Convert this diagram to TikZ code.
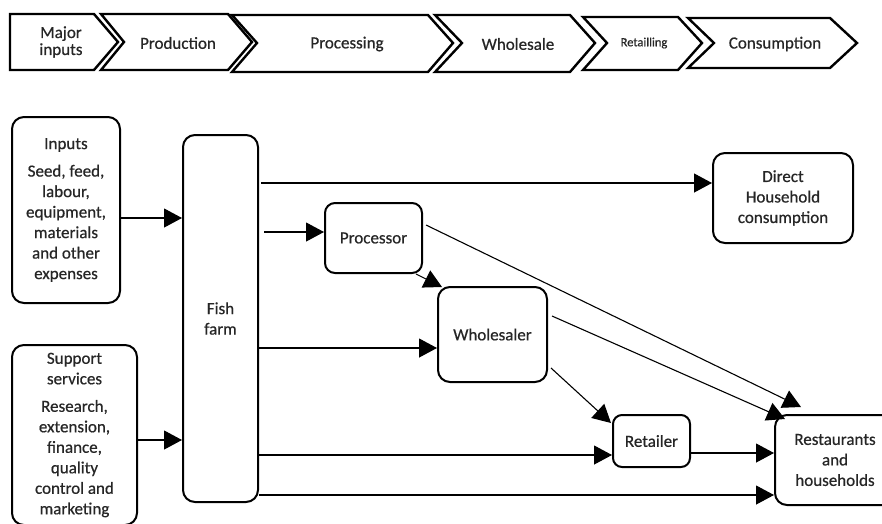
\documentclass[tikz,border=0pt]{standalone}
\usepackage{fontspec}
\setmainfont[FakeBold=0.6]{Carlito}
\usetikzlibrary{arrows.meta}

\tikzset{
  box/.style={draw, rounded corners=12pt, line width=2pt, align=center, inner sep=2pt},
  flow/.style={-{Triangle[length=18pt,width=19pt]}, line width=1.1pt},
  stage/.style={draw, line width=2.4pt, miter limit=10},
}

\begin{document}
\begin{tikzpicture}[x=1pt, y=-1pt,
    every node/.style={font=\fontsize{17}{20.5}\selectfont, text=black!85}]
  \useasboundingbox (0,0) rectangle (882,523);

  % value chain stages
  \draw[stage] (10,14) -- (94,14) -- (118,42) -- (94,70) -- (10,70) -- cycle;
  \draw[stage] (101,14) -- (228,14) -- (252,42) -- (228,70) -- (101,70) -- (124,42) -- cycle;
  \draw[stage] (232,15) -- (428,15) -- (453,43) -- (428,72) -- (232,72) -- (257,43) -- cycle;
  \draw[stage] (435,15) -- (570,15) -- (595,43) -- (570,72) -- (435,72) -- (462,43) -- cycle;
  \draw[stage] (583,17) -- (678,17) -- (702,43) -- (678,70) -- (583,70) -- (607,43) -- cycle;
  \draw[stage] (688,18) -- (830,18) -- (857,43) -- (830,68) -- (688,68) -- (714,43) -- cycle;

  \node[align=center, font=\fontsize{17}{17}\selectfont] (major) at (61,42) {Major\\inputs};
  \node (prod) at (178,43) {Production};
  \node (procg) at (347,44) {Processing};
  \node (whsale) at (518,44) {Wholesale};
  \node[font=\fontsize{12.5}{14}\selectfont] (retg) at (644,43) {Retailling};
  \node (cons) at (775,44) {Consumption};

  % actors
  \node[box, minimum width=108pt, minimum height=186pt] (inputs) at (66,210)
    {Inputs\\[7pt]Seed, feed,\\labour,\\equipment,\\materials\\and other\\expenses};
  \node[box, minimum width=75pt, minimum height=367pt] (farm) at (220.5,318.5) {Fish\\farm};
  \node[box, minimum width=125pt, minimum height=180pt] (support) at (74.5,435)
    {Support\\services\\[7pt]Research,\\extension,\\finance,\\quality\\control and\\marketing};
  \node[box, rounded corners=10pt, minimum width=97pt, minimum height=70pt] (proc) at (373.5,238) {Processor};
  \node[box, minimum width=109pt, minimum height=95pt] (whole) at (492.5,334.5) {Wholesaler};
  \node[box, minimum width=140pt, minimum height=90pt] (direct) at (783,198) {Direct\\Household\\consumption};
  \node[box, rounded corners=9pt, minimum width=77pt, minimum height=52pt] (ret) at (651.5,441) {Retailer};
  \node[box, minimum width=120pt, minimum height=90pt] (rest) at (835,460) {Restaurants\\and\\households};

  \draw[flow] ([yshift=-8pt]inputs.east) -- ([yshift=-8pt]inputs.east -| farm.west);
  \draw[flow] ([yshift=-5pt]support.east) -- ([yshift=-5pt]support.east -| farm.west);

  \draw[flow] ([xshift=2pt,yshift=15pt]farm.east |- direct.west) -- ([yshift=15pt]direct.west);
  \draw[flow] ([xshift=5pt,yshift=6pt]farm.east |- proc.west) -- ([yshift=6pt]proc.west);
  \draw[flow] ([yshift=-13.5pt]farm.east |- whole.west) -- ([yshift=-13.5pt]whole.west);
  \draw[flow] ([yshift=-14pt]farm.east |- ret.west) -- ([yshift=-14pt]ret.west);
  \draw[flow] ([yshift=-35pt]farm.east |- rest.west) -- ([yshift=-35pt]rest.west);

  \draw[flow] ([xshift=-7pt]proc.south east) -- ([xshift=5pt,yshift=-1pt]whole.north west);
  \draw[flow] ([xshift=3pt,yshift=13pt]proc.east) -- ([xshift=27pt,yshift=7pt]rest.north west);
  \draw[flow] ([xshift=4pt,yshift=18.5pt]whole.east) -- ([xshift=11pt,yshift=-5pt]rest.north west);
  \draw[flow] ([xshift=3pt,yshift=-33.5pt]whole.east) -- ([xshift=-1pt,yshift=-9pt]ret.north west);
  \draw[flow] ([yshift=-12pt]ret.east) -- ([yshift=-12pt]ret.east -| rest.west);
\end{tikzpicture}
\end{document}
